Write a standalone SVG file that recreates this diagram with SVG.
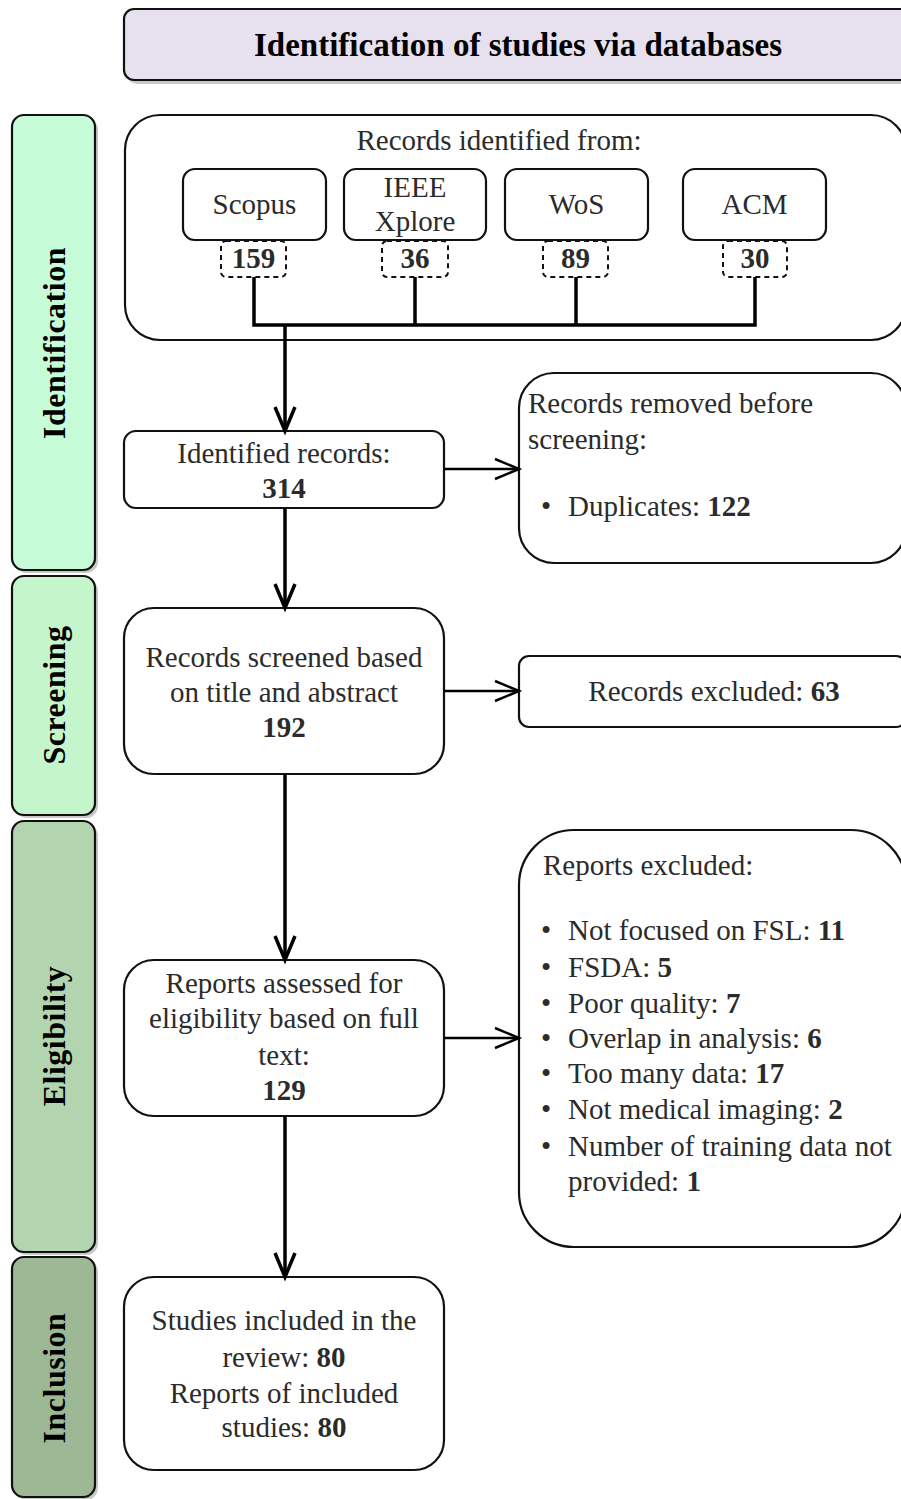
<svg xmlns="http://www.w3.org/2000/svg" width="901" height="1499" viewBox="0 0 901 1499">
<style>
  text { font-family: "Liberation Serif", "Times New Roman", serif; fill: #2b2b2b; font-size: 29px; }
  .b { font-weight: bold; }
  .c { text-anchor: middle; }
  .title { font-size: 33px; font-weight: bold; fill: #000; text-anchor: middle; }
  .lane text { font-size: 32px; font-weight: bold; fill: #000; text-anchor: middle; letter-spacing: 0.5px; }
  .box { fill: #fff; stroke: #111; stroke-width: 2.2; }
  .dash { fill: #fff; stroke: #111; stroke-width: 2; stroke-dasharray: 5 4; }
  .shadow { fill: #c8c8c8; }
  .lanebox { stroke: #111; stroke-width: 2.2; }
  .bus { fill: none; stroke: #000; stroke-width: 3.5; }
  .thick { fill: none; stroke: #000; stroke-width: 3.5; marker-end: url(#headThick); }
  .thin { fill: none; stroke: #000; stroke-width: 2.5; marker-end: url(#headThin); }
</style>
<defs>
  <marker id="headThick" markerUnits="userSpaceOnUse" orient="auto" refX="0" refY="0" overflow="visible">
    <path d="M -24 -10 L 0 0 L -24 10" fill="none" stroke="#000" stroke-width="3.5"/>
  </marker>
  <marker id="headThin" markerUnits="userSpaceOnUse" orient="auto" refX="0" refY="0" overflow="visible">
    <path d="M -24 -10 L 0 0 L -24 10" fill="none" stroke="#000" stroke-width="2.5"/>
  </marker>
</defs>

<rect width="901" height="1499" fill="#fff"/>

<!-- Title -->
<g id="title">
  <rect class="shadow" x="127" y="12" width="788" height="72" rx="10"/>
  <rect x="124" y="9" width="788" height="71" rx="10" fill="#e6e0ef" stroke="#111" stroke-width="2.2"/>
  <text class="title" x="518" y="56">Identification of studies via databases</text>
</g>

<!-- Lanes -->
<g id="lane-identification" class="lane">
  <rect class="shadow" x="15" y="118" width="83" height="455" rx="12"/>
  <rect class="lanebox" x="12" y="115" width="83" height="455" rx="12" fill="#c6fdd8"/>
  <text transform="translate(65 343) rotate(-90)">Identification</text>
</g>
<g id="lane-screening" class="lane">
  <rect class="shadow" x="15" y="579" width="83" height="239" rx="12"/>
  <rect class="lanebox" x="12" y="576" width="83" height="239" rx="12" fill="#c5f5cb"/>
  <text transform="translate(65 695) rotate(-90)">Screening</text>
</g>
<g id="lane-eligibility" class="lane">
  <rect class="shadow" x="15" y="824" width="83" height="431" rx="12"/>
  <rect class="lanebox" x="12" y="821" width="83" height="431" rx="12" fill="#b2d5b0"/>
  <text transform="translate(65 1036) rotate(-90)">Eligibility</text>
</g>
<g id="lane-inclusion" class="lane">
  <rect class="shadow" x="15" y="1260" width="83" height="240" rx="12"/>
  <rect class="lanebox" x="12" y="1257" width="83" height="240" rx="12" fill="#9db894"/>
  <text transform="translate(65 1378) rotate(-90)">Inclusion</text>
</g>

<!-- Identification container -->
<g id="records-identified">
  <rect class="box" x="125" y="115" width="781" height="225" rx="35"/>
  <text class="c" x="499" y="150">Records identified from:</text>
</g>

<g id="scopus">
  <rect class="box" x="183" y="169" width="143" height="71" rx="12"/>
  <text class="c" x="254.5" y="214">Scopus</text>
</g>
<g id="ieee">
  <rect class="box" x="344" y="169" width="142" height="71" rx="12"/>
  <text class="c" x="415" y="197">IEEE</text>
  <text class="c" x="415" y="231">Xplore</text>
</g>
<g id="wos">
  <rect class="box" x="505" y="169" width="143" height="71" rx="12"/>
  <text class="c" x="576.5" y="214">WoS</text>
</g>
<g id="acm">
  <rect class="box" x="683" y="169" width="143" height="71" rx="12"/>
  <text class="c" x="754.5" y="214">ACM</text>
</g>

<g id="count-scopus">
  <rect class="dash" x="221" y="241" width="65" height="36" rx="5"/>
  <text class="c b" x="253.5" y="268">159</text>
</g>
<g id="count-ieee">
  <rect class="dash" x="382" y="241" width="66" height="36" rx="5"/>
  <text class="c b" x="415" y="268">36</text>
</g>
<g id="count-wos">
  <rect class="dash" x="543" y="241" width="65" height="36" rx="5"/>
  <text class="c b" x="575.5" y="268">89</text>
</g>
<g id="count-acm">
  <rect class="dash" x="723" y="241" width="64" height="36" rx="5"/>
  <text class="c b" x="755" y="268">30</text>
</g>

<!-- Main flow boxes -->
<g id="identified-records">
  <rect class="box" x="124" y="431" width="320" height="77" rx="12"/>
  <text class="c" x="284" y="463">Identified records:</text>
  <text class="c b" x="284" y="498">314</text>
</g>
<g id="removed-before-screening">
  <rect class="box" x="519" y="373" width="387" height="190" rx="35"/>
  <text x="528" y="413">Records removed before</text>
  <text x="528" y="449">screening:</text>
  <text y="516"><tspan x="541">•</tspan><tspan x="568">Duplicates: </tspan><tspan class="b">122</tspan></text>
</g>
<g id="screened">
  <rect class="box" x="124" y="608" width="320" height="166" rx="30"/>
  <text class="c" x="284" y="667">Records screened based</text>
  <text class="c" x="284" y="702">on title and abstract</text>
  <text class="c b" x="284" y="737">192</text>
</g>
<g id="records-excluded">
  <rect class="box" x="519" y="656" width="387" height="71" rx="10"/>
  <text class="c" x="714" y="701">Records excluded: <tspan class="b">63</tspan></text>
</g>
<g id="assessed">
  <rect class="box" x="124" y="960" width="320" height="156" rx="30"/>
  <text class="c" x="284" y="993">Reports assessed for</text>
  <text class="c" x="284" y="1028">eligibility based on full</text>
  <text class="c" x="284" y="1065">text:</text>
  <text class="c b" x="284" y="1100">129</text>
</g>
<g id="reports-excluded">
  <rect class="box" x="519" y="830" width="387" height="417" rx="55"/>
  <text x="543" y="875">Reports excluded:</text>
  <text y="940"><tspan x="541">•</tspan><tspan x="568">Not focused on FSL: </tspan><tspan class="b">11</tspan></text>
  <text y="977"><tspan x="541">•</tspan><tspan x="568">FSDA: </tspan><tspan class="b">5</tspan></text>
  <text y="1013"><tspan x="541">•</tspan><tspan x="568">Poor quality: </tspan><tspan class="b">7</tspan></text>
  <text y="1048"><tspan x="541">•</tspan><tspan x="568">Overlap in analysis: </tspan><tspan class="b">6</tspan></text>
  <text y="1083"><tspan x="541">•</tspan><tspan x="568">Too many data: </tspan><tspan class="b">17</tspan></text>
  <text y="1119"><tspan x="541">•</tspan><tspan x="568">Not medical imaging: </tspan><tspan class="b">2</tspan></text>
  <text y="1156"><tspan x="541">•</tspan><tspan x="568">Number of training data not</tspan></text>
  <text y="1191"><tspan x="568">provided: </tspan><tspan class="b">1</tspan></text>
</g>
<g id="included">
  <rect class="box" x="124" y="1277" width="320" height="193" rx="30"/>
  <text class="c" x="284" y="1330">Studies included in the</text>
  <text class="c" x="284" y="1367">review: <tspan class="b">80</tspan></text>
  <text class="c" x="284" y="1403">Reports of included</text>
  <text class="c" x="284" y="1437">studies: <tspan class="b">80</tspan></text>
</g>

<!-- Connectors -->
<g id="connectors">
  <path class="bus" d="M 254 277 V 325 M 415 277 V 325 M 576 277 V 325 M 755 277 V 325 M 252.25 325 H 756.75"/>
  <path class="thick" d="M 285 325 V 431"/>
  <path class="thick" d="M 285 508 V 608"/>
  <path class="thick" d="M 285 774 V 960"/>
  <path class="thick" d="M 285 1116 V 1277"/>
  <path class="thin" d="M 444 469 H 519"/>
  <path class="thin" d="M 444 691 H 519"/>
  <path class="thin" d="M 444 1038 H 519"/>
</g>
</svg>
